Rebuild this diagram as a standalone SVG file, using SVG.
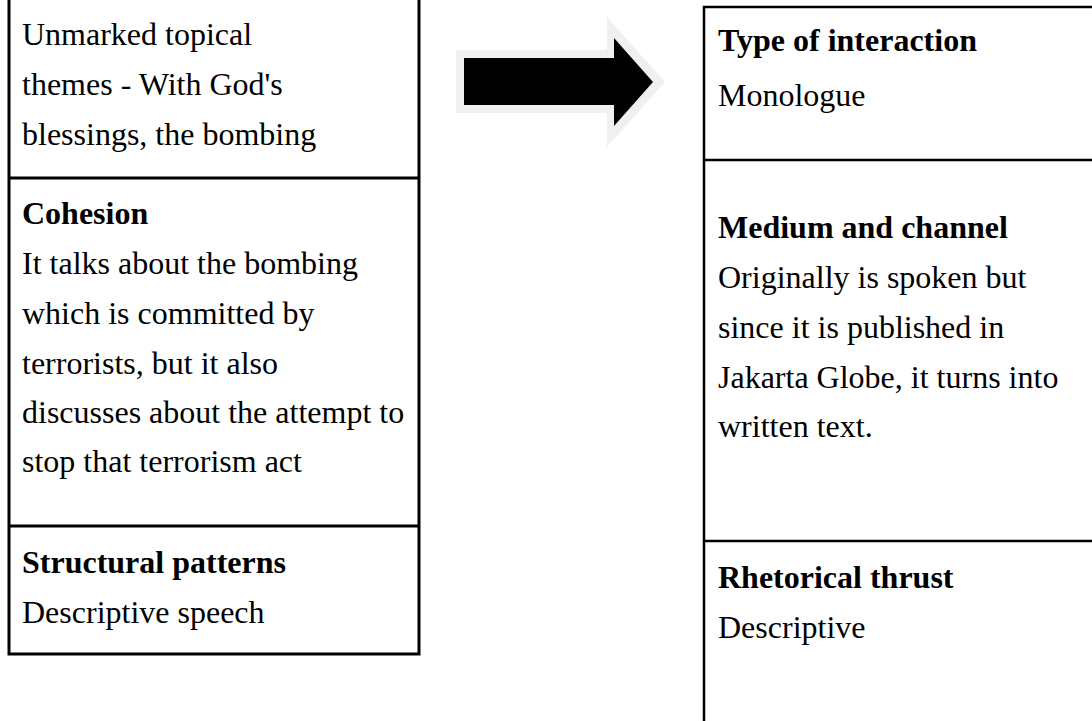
<svg xmlns="http://www.w3.org/2000/svg" width="1092" height="721" viewBox="0 0 1092 721">
<style>
text{font-family:"Liberation Serif","Times New Roman",serif;font-size:32px;fill:#000}
.b{font-weight:bold}
.ln{stroke:#000;stroke-width:2.5;fill:none}
.lt{stroke-width:3}
</style>
<rect width="1092" height="721" fill="#fff"/>
<g id="left-table">
<g id="cell-themes">
<text x="22" y="45">Unmarked topical</text>
<text x="22" y="95">themes - With God's</text>
<text x="22" y="145">blessings, the bombing</text>
</g>
<g id="cell-cohesion">
<text class="b" x="22" y="224">Cohesion</text>
<text x="22" y="274">It talks about the bombing</text>
<text x="22" y="324">which is committed by</text>
<text x="22" y="374">terrorists, but it also</text>
<text x="22" y="423">discusses about the attempt to</text>
<text x="22" y="472">stop that terrorism act</text>
</g>
<g id="cell-structural">
<text class="b" x="22" y="573">Structural patterns</text>
<text x="22" y="623">Descriptive speech</text>
</g>
<path class="ln lt" d="M9,0V655.5M419,0V655.5M9,178H419M9,526H419M7.5,654H420.5"/>
</g>
<g id="right-table">
<g id="cell-interaction">
<text class="b" x="718" y="51">Type of interaction</text>
<text x="718" y="106">Monologue</text>
</g>
<g id="cell-medium">
<text class="b" x="718" y="238">Medium and channel</text>
<text x="718" y="288">Originally is spoken but</text>
<text x="718" y="338">since it is published in</text>
<text x="718" y="388">Jakarta Globe, it turns into</text>
<text x="718" y="437">written text.</text>
</g>
<g id="cell-rhetorical">
<text class="b" x="718" y="588">Rhetorical thrust</text>
<text x="718" y="638">Descriptive</text>
</g>
<path class="ln" d="M704,5.8V721M702.8,7H1092M704,160H1092M704,541H1092"/>
</g>
<g id="connectors">
<polygon points="456,50 607,50 607,17 665,82 607,147 607,113 456,113" fill="#f0f0f0"/>
<polygon points="464,58 614,58 614,38 653,82 614,126 614,105 464,105" fill="#000"/>
</g>
</svg>
